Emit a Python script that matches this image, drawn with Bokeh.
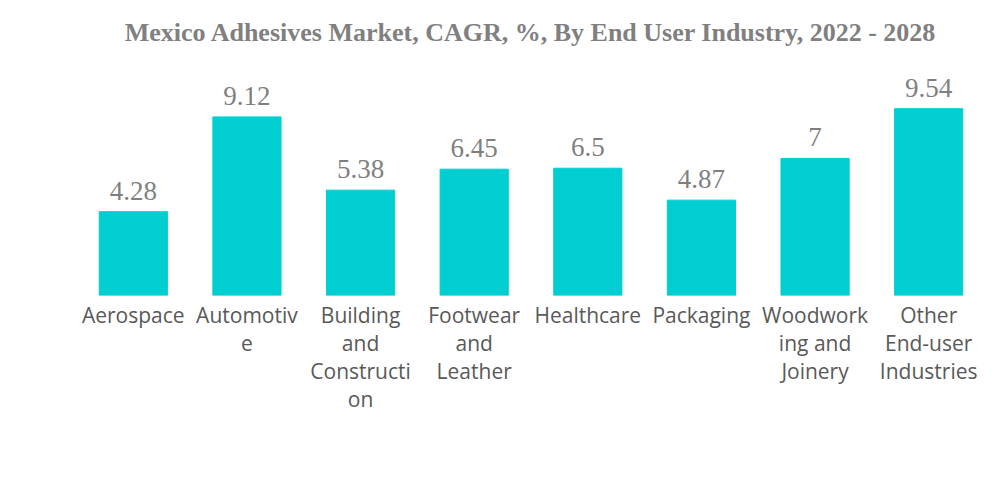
from bokeh.plotting import figure
from bokeh.models import ColumnDataSource, FixedTicker, Range1d
from bokeh.core.properties import value
from bokeh.embed import file_html
from bokeh.resources import INLINE

categories = ["Aerospace", "Automotive", "Building and Construction", "Footwear and Leather",
              "Healthcare", "Packaging", "Woodworking and Joinery", "Other End-user Industries"]
tick_labels = ["Aerospace", "Automotiv\ne", "Building\nand\nConstructi\non", "Footwear\nand\nLeather",
               "Healthcare", "Packaging", "Woodwork\ning and\nJoinery", "Other\nEnd-user\nIndustries"]
cagr = [4.28, 9.12, 5.38, 6.45, 6.5, 4.87, 7.0, 9.54]
value_labels = ["4.28", "9.12", "5.38", "6.45", "6.5", "4.87", "7", "9.54"]

xs = [i + 0.5 for i in range(len(categories))]
src = ColumnDataSource(dict(x=xs, top=cagr, lab=value_labels))

p = figure(width=990, height=470, output_backend="svg", toolbar_location=None,
           x_range=Range1d(0, 8), y_range=Range1d(0, 12),
           min_border_left=76, min_border_right=5, min_border_top=60, min_border_bottom=175,
           title="Mexico Adhesives Market, CAGR, %, By End User Industry, 2022 - 2028")
p.title.align = "center"
p.title.text_font = "Liberation Serif"
p.title.text_font_size = "26px"
p.title.text_font_style = "bold"
p.title.text_color = "#808080"
p.title.standoff = 28

p.vbar(x="x", top="top", bottom=0, width=0.6, source=src, color="#00CED1")
p.text(x="x", y="top", text="lab", source=src, text_align="center", text_baseline="bottom",
       y_offset=-12, text_font=value("Liberation Serif"), text_font_size="27px", text_color="#7f7f7f")

p.xaxis.ticker = FixedTicker(ticks=xs)
p.xaxis.major_label_overrides = {x: t for x, t in zip(xs, tick_labels)}
p.xaxis.major_label_text_font = "Open Sans"
p.xaxis.major_label_text_font_size = "21px"
p.xaxis.major_label_text_line_height = 1.0
p.xaxis.major_label_text_color = "#595959"
p.xaxis.axis_line_color = None
p.xaxis.major_tick_line_color = None
p.xaxis.minor_tick_line_color = None
p.xaxis.major_label_standoff = -1
p.yaxis.visible = False
p.xgrid.visible = False
p.ygrid.visible = False
p.outline_line_color = None

open("out.html", "w").write(file_html(p, INLINE))
